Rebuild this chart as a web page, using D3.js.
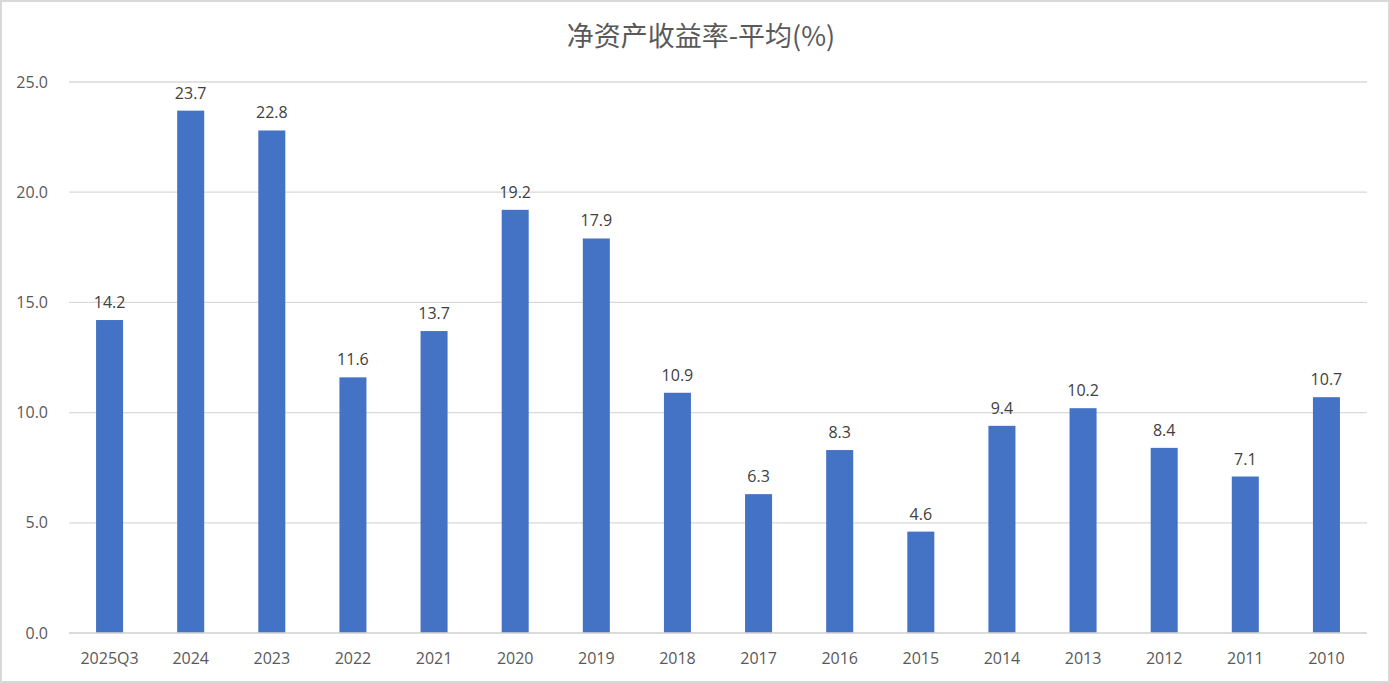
<!DOCTYPE html>
<html><head><meta charset="utf-8">
<script src="https://cdn.jsdelivr.net/npm/d3@7/dist/d3.min.js"></script>
<style>html,body{margin:0;padding:0;background:#fff;}</style>
</head><body>
<script>
const categories = ["2025Q3","2024","2023","2022","2021","2020","2019","2018","2017","2016","2015","2014","2013","2012","2011","2010"];
const values = [14.2,23.7,22.8,11.6,13.7,19.2,17.9,10.9,6.3,8.3,4.6,9.4,10.2,8.4,7.1,10.7];
const yTicks = [0,5,10,15,20,25];
const title = "净资产收益率-平均(%)";

const W = 1390, H = 683;
const svg = d3.select("body").append("svg").attr("width", W).attr("height", H);
const font = "'Open Sans','Noto Sans',sans-serif";
const cjk = "'Noto Sans CJK SC','Noto Sans',sans-serif";

svg.append("rect").attr("x",1).attr("y",1).attr("width",W-2).attr("height",H-2)
  .attr("fill","#fff").attr("stroke","#d9d9d9").attr("stroke-width",2);

const x = d3.scaleBand().domain(categories).range([69,1367]).paddingInner(0.667).paddingOuter(0.3335);
const y = d3.scaleLinear().domain([0,25]).range([633,82]);

svg.append("g").selectAll("line").data(yTicks).join("line")
  .attr("x1",69).attr("x2",1367).attr("y1",d=>y(d)).attr("y2",d=>y(d))
  .attr("stroke","#d9d9d9").attr("stroke-width",1.3);

const yAxis = svg.append("g").attr("transform","translate(69,0)")
  .call(d3.axisLeft(y).tickValues(yTicks).tickFormat(d3.format(".1f")).tickSize(0).tickPadding(21));
yAxis.select(".domain").remove();
yAxis.selectAll("text").attr("font-family",font).attr("font-size",16).attr("fill","#595959");

svg.append("g").selectAll("rect").data(values).join("rect")
  .attr("x",(d,i)=>x(categories[i])).attr("width",x.bandwidth())
  .attr("y",d=>y(d)).attr("height",d=>y(0)-y(d)).attr("fill","#4472c4");

svg.append("line").attr("x1",69).attr("x2",1367).attr("y1",y(0)).attr("y2",y(0))
  .attr("stroke","#d9d9d9").attr("stroke-width",1.5);

const xAxis = svg.append("g").attr("transform",`translate(0,${y(0)})`)
  .call(d3.axisBottom(x).tickSize(0).tickPadding(20));
xAxis.select(".domain").remove();
xAxis.selectAll("text").attr("font-family",font).attr("font-size",16).attr("fill","#595959");

svg.append("g").selectAll("text").data(values).join("text")
  .attr("x",(d,i)=>x(categories[i])+x.bandwidth()/2).attr("y",d=>y(d)-12)
  .attr("text-anchor","middle").attr("font-family",font).attr("font-size",16).attr("fill","#404040")
  .text(d=>d3.format(".1f")(d));

svg.append("text").attr("x",W/2+6).attr("y",46).attr("text-anchor","middle")
  .attr("font-family",cjk).attr("font-size",27).attr("fill","#595959").text(title);
</script>
</body></html>
